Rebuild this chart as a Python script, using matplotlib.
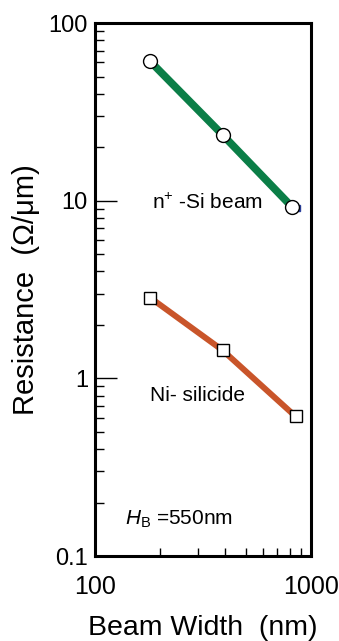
import numpy as np
import matplotlib.pyplot as plt
from matplotlib.ticker import LogLocator, NullFormatter, FixedLocator

plt.rcParams['font.family'] = ['Liberation Sans', 'DejaVu Sans']
plt.rcParams['mathtext.fontset'] = 'custom'
plt.rcParams['mathtext.rm'] = 'Liberation Sans'
plt.rcParams['mathtext.it'] = 'Liberation Sans:italic'

# beam widths (nm) and resistance per length (ohm/um)
width_si = [180, 390, 820]
res_si = [61, 23.5, 9.2]
width_nisi = [180, 390, 850]
res_nisi = [2.85, 1.44, 0.61]
width_extra = [860]
res_extra = [9.1]

fig = plt.figure(figsize=(3.39, 6.41), dpi=100)
ax = fig.add_axes([0.280, 0.1326, 0.637, 0.8314])

ax.plot(width_extra, res_extra, ls='none', marker='s', ms=4, mfc='#2a3f9c',
        mec='#2a3f9c', zorder=2)
ax.plot(width_si, res_si, color='#0b7e47', lw=5.5, solid_capstyle='butt', zorder=2)
ax.plot(width_si, res_si, ls='none', marker='o', ms=10, mfc='white',
        mec='black', mew=1.0, zorder=3)
ax.plot(width_nisi, res_nisi, color='#c9552a', lw=4.3, solid_capstyle='butt', zorder=2)
ax.plot(width_nisi, res_nisi, ls='none', marker='s', ms=8.8, mfc='white',
        mec='black', mew=1.0, zorder=3)

ax.set_xscale('log')
ax.set_yscale('log')
ax.set_xlim(100, 1000)
ax.set_ylim(0.1, 100)

for s in ax.spines.values():
    s.set_linewidth(2.2)

ax.yaxis.set_major_locator(FixedLocator([0.1, 1, 10, 100]))
ax.yaxis.set_minor_locator(LogLocator(base=10, subs=np.arange(2, 10)))
ax.yaxis.set_minor_formatter(NullFormatter())
ax.set_yticklabels(['0.1', '1', '10', '100'])
ax.tick_params(axis='y', which='major', direction='in', length=16, width=1.0,
               labelsize=17, pad=5)
ax.tick_params(axis='y', which='minor', direction='in', length=6.5, width=1.0)

ax.xaxis.set_major_locator(FixedLocator([100, 1000]))
ax.xaxis.set_minor_locator(LogLocator(base=10, subs=np.arange(2, 10)))
ax.xaxis.set_minor_formatter(NullFormatter())
ax.set_xticklabels(['100', '1000'])
ax.tick_params(axis='x', which='major', direction='in', length=0, labelsize=18, pad=14)
ax.tick_params(axis='x', which='minor', direction='in', length=6, width=1.0)

ax.set_xlabel('Beam Width  (nm)', fontsize=20.5, labelpad=11)
ax.set_ylabel('Resistance  (\u03a9/\u03bcm)', fontsize=21, labelpad=6)

ax.text(184, 9.7, r'n$^{+}$ -Si beam', fontsize=15, va='center')
ax.text(179, 0.80, 'Ni- silicide', fontsize=15, va='center')
ax.text(138, 0.16, r'$\mathit{H}_{\mathrm{B}}$ =550nm', fontsize=15, va='center')

fig.savefig('out.png', dpi=100)
